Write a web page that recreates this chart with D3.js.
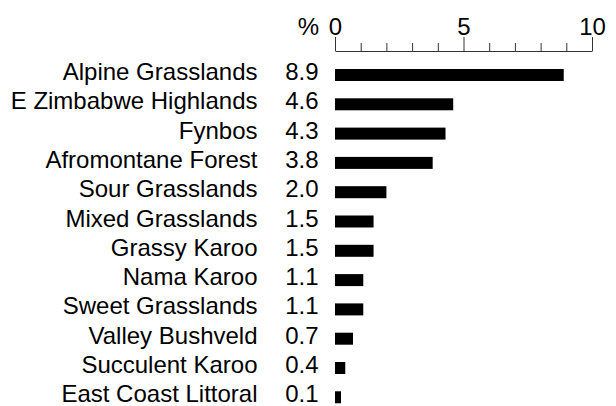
<!DOCTYPE html>
<html>
<head>
<meta charset="utf-8">
<script src="https://cdn.jsdelivr.net/npm/d3@7"></script>
<style>
  html, body { margin: 0; padding: 0; background: #fff; overflow: hidden; }
  svg { display: block; }
  text { font-family: "Liberation Sans", Arial, sans-serif; fill: #000; }
</style>
</head>
<body>
<svg id="chart" width="616" height="406"></svg>
<script>
const categories = ["Alpine Grasslands", "E Zimbabwe Highlands", "Fynbos", "Afromontane Forest",
  "Sour Grasslands", "Mixed Grasslands", "Grassy Karoo", "Nama Karoo", "Sweet Grasslands",
  "Valley Bushveld", "Succulent Karoo", "East Coast Littoral"];
const values = [8.9, 4.6, 4.3, 3.8, 2.0, 1.5, 1.5, 1.1, 1.1, 0.7, 0.4, 0.1];
const majorTicks = [0, 5, 10];
const minorTicks = [1, 2, 3, 4, 6, 7, 8, 9];
const unitLabel = "%";

const svg = d3.select("#chart");
const fontSize = 24;

const x = d3.scaleLinear().domain([0, 10]).range([335, 592]);
const y = d3.scaleBand().domain(categories)
  .range([69, 69 + 11 * 29.3 + 12])
  .paddingInner(1 - 12 / 29.3).paddingOuter(0);

const axisY = 51;

// minor ticks
svg.append("g").attr("transform", `translate(0,${axisY})`)
  .call(d3.axisTop(x).tickValues(minorTicks).tickSize(8).tickSizeOuter(0).tickFormat(""))
  .call(g => g.select(".domain").remove())
  .call(g => g.selectAll("line").attr("stroke", "#333").attr("stroke-width", 1));

// major ticks + labels
svg.append("g").attr("transform", `translate(0,${axisY})`)
  .call(d3.axisTop(x).tickValues(majorTicks).tickSize(14).tickSizeOuter(0).tickPadding(2).tickFormat(d3.format("d")))
  .call(g => g.select(".domain").attr("stroke", "#333").attr("stroke-width", 1))
  .call(g => g.selectAll("line").attr("stroke", "#333").attr("stroke-width", 1))
  .call(g => g.selectAll("text").attr("font-size", fontSize)
    .attr("font-family", "Liberation Sans, Arial, sans-serif").attr("fill", "#000"));

// unit label
svg.append("text").attr("x", 319).attr("y", 35)
  .attr("text-anchor", "end").attr("font-size", fontSize).text(unitLabel);

const rows = svg.append("g");
const data = categories.map((c, i) => ({ c, v: values[i] }));

rows.selectAll("rect").data(data).join("rect")
  .attr("x", x(0))
  .attr("y", d => y(d.c))
  .attr("width", d => Math.max(x(d.v) - x(0), 6))
  .attr("height", y.bandwidth())
  .attr("fill", "#000");

rows.selectAll("text.cat").data(data).join("text")
  .attr("class", "cat")
  .attr("x", 257.5)
  .attr("y", d => y(d.c) + y.bandwidth() - 1)
  .attr("text-anchor", "end").attr("font-size", fontSize)
  .text(d => d.c);

rows.selectAll("text.val").data(data).join("text")
  .attr("class", "val")
  .attr("x", 318.5)
  .attr("y", d => y(d.c) + y.bandwidth() - 1)
  .attr("text-anchor", "end").attr("font-size", fontSize)
  .text(d => d.v.toFixed(1));
</script>
</body>
</html>
